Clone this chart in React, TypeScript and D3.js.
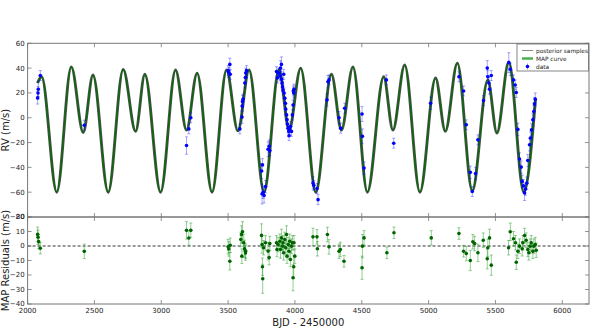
import * as d3 from "d3";

// ---- data ----
const X_TICKS = [2000, 2500, 3000, 3500, 4000, 4500, 5000, 5500, 6000];
const RV_TICKS = [-80, -60, -40, -20, 0, 20, 40, 60];
const RES_TICKS = [-40, -30, -20, -10, 0, 10, 20];

// MAP curve, sampled at its turning points
const CURVE_T = [2074, 2105, 2218, 2327, 2416, 2489, 2603, 2715, 2808, 2877, 2995, 3107, 3189, 3268, 3380, 3488, 3573, 3657, 3769, 3881, 3956, 4043, 4156, 4273, 4348, 4434, 4542, 4664, 4733, 4821, 4935, 5052, 5125, 5215, 5327, 5443, 5511, 5600, 5712, 5800];
const CURVE_V = [28, 33, -60, 41, -12, 34.5, -60, 39, -11, 35, -60, 38.5, -10, 36, -60, 38.5, -10.5, 38.5, -60, 39, -10, 40, -60, 35, -10, 41, -60, 33, -10, 42.5, -60, 32, -11, 44, -59, 30.5, -12.4, 45, -60, 15];

// [BJD-2450000, RV, err]
const RV_DATA: [number, number, number][] = [
  [2075, 16, 5], [2078, 20, 5], [2080, 23, 6], [2095, 34, 4],
  [2424, -6, 4],
  [3189, -22.4, 7], [3206, -9, 4], [3221, 0, 4],
  [3500, 38, 4], [3505, 36.4, 4], [3513, 43, 5], [3516, 35, 4],
  [3588, -9, 4], [3604, 0.5, 5], [3605, 9.5, 4], [3608, 13, 5], [3612, 15, 4], [3625, 28, 4], [3630, 32.5, 4], [3632, 36, 4], [3638, 38, 4],
  [3750, -43, 6], [3754, -61.5, 8], [3757, -38, 5], [3762, -60, 5], [3769, -62.6, 6], [3780, -55.5, 5], [3799, -25.4, 6], [3807, -23, 5], [3812, -26.5, 4],
  [3862, 37.2, 4], [3869, 32, 4], [3879, 36, 4], [3887, 33.7, 4], [3892, 40, 6], [3899, 43, 6], [3900, 31, 4], [3904, 28, 4], [3907, 25, 4], [3911, 22.4, 4],
  [3916, 35, 4], [3919, 20, 4], [3924, 15.8, 4], [3929, 11.7, 4], [3931, 7, 4], [3937, 2.3, 4], [3941, -1.7, 4], [3944, -5, 4], [3949, -8.4, 4], [3954, -11, 4],
  [3956, -14.5, 4], [3961, -9.8, 4], [3966, -7, 4], [3974, -11, 4], [3981, 2.3, 4], [3986, 10.3, 4], [3988, 21.6, 4], [3991, 20, 4], [3993, 23, 4],
  [4135, -52.6, 5], [4141, -54.5, 4], [4165, -57, 4], [4173, -66, 4],
  [4240, 14.4, 5], [4247, 29, 5], [4255, 30.5, 4],
  [4330, 0, 5], [4342, -8.4, 4], [4372, 7.7, 4],
  [4502, 3, 6], [4505, -15, 6], [4517, -40.6, 5],
  [4684, 30.5, 4], [4739, -20.5, 4],
  [5015, 11.7, 5],
  [5227, 33, 4], [5262, 21.6, 4], [5282, -5.7, 4], [5312, -44, 5], [5327, -59.4, 4], [5351, -45, 5], [5369, -17.8, 4], [5411, 13.8, 4],
  [5439, 40, 6], [5443, 33, 5], [5451, 28, 5], [5456, 23, 4], [5469, 34, 4],
  [5600, 44.4, 8], [5611, 39, 5], [5635, 30.5, 4], [5648, 26.4, 4], [5656, 20.3, 4], [5668, -9.4, 5], [5680, -33.3, 5], [5693, -39.8, 5],
  [5700, -51.3, 5], [5710, -54.8, 5], [5718, -60.7, 6], [5725, -57.5, 5], [5735, -52.7, 5], [5742, -34.5, 5], [5755, -21.8, 5], [5762, -16.4, 5],
  [5770, -9.8, 5], [5780, -1.7, 5], [5787, 5, 5], [5792, 11.2, 5], [5798, 15, 5],
];

// [BJD-2450000, residual, err]
const RES_DATA: [number, number, number][] = [
  [2075, 8, 5], [2078, 6, 5], [2083, 3, 5], [2095, -1.5, 4],
  [2424, -3.7, 5],
  [3189, 10.8, 6], [3206, 5.5, 5], [3221, 10.8, 5],
  [3500, -0.5, 5], [3505, -2, 5], [3513, -10.5, 6], [3516, 0.5, 5],
  [3595, 4.5, 5], [3600, 7.9, 6], [3603, -7, 5], [3608, 9.8, 7], [3617, 2.2, 6], [3623, -2, 6], [3630, -4.8, 5], [3632, -3.5, 5],
  [3750, 7.3, 8], [3754, 1, 6], [3757, -14.3, 6], [3759, -22.6, 10], [3765, -1.2, 5], [3780, 2.2, 5], [3799, -3.5, 6], [3807, -8, 5], [3812, 1.7, 5],
  [3862, 2.2, 5], [3866, -2.4, 5], [3874, 1, 5], [3887, 3.3, 5], [3892, -2.4, 6], [3899, 5.6, 6], [3907, -0.1, 5], [3911, 2.2, 5], [3916, -4.7, 5],
  [3924, 4.5, 5], [3931, -1.2, 5], [3937, 7.9, 6], [3941, -7, 5], [3949, 1, 5], [3956, -3.6, 5], [3961, 3.3, 5], [3966, -9.3, 5], [3974, -0.1, 5],
  [3981, 2.2, 5], [3986, -21.9, 9], [3991, -14.3, 8], [3993, 2.2, 5], [3999, -7, 5],
  [4135, 6.3, 6], [4165, 6.3, 5], [4168, -1.9, 5], [4243, 7.9, 5], [4255, -0.6, 5], [4330, -3.6, 5], [4340, -2.4, 5], [4367, -10.5, 4],
  [4502, -15, 8], [4505, -0.1, 8], [4517, 5.6, 5], [4688, -4.7, 4], [4741, 9.1, 4], [5020, 5.6, 5],
  [5227, 8.6, 4], [5262, -3.6, 4], [5282, -5.2, 5], [5312, -10, 7], [5331, 2.9, 5], [5344, 1.7, 5], [5369, -4.7, 6], [5409, 4, 5],
  [5439, -8.8, 7], [5443, -1.2, 6], [5456, 5.6, 6], [5469, -13.2, 7],
  [5598, -1.2, 5], [5611, 9.8, 6], [5635, 5, 5], [5650, 2.2, 5], [5656, -11.2, 5], [5668, -3.6, 5], [5680, -0.1, 5], [5700, -1.9, 5],
  [5705, 2.2, 5], [5718, 7.2, 5], [5730, 4, 5], [5742, -2.4, 5], [5750, -4.7, 5], [5760, -0.1, 5], [5768, 2.2, 5], [5780, -3.6, 5],
  [5787, -0.1, 5], [5798, 1, 5], [5805, -2.9, 5],
];

const LEGEND = ["posterior samples", "MAP curve", "data"];

const FONT = "'DejaVu Sans', sans-serif";
const FRAME = "#777";

export default function App() {
  const W = 598, H = 336;
  const left = 27.6, right = 589;
  const top = 43.3, mid = 217, bottom = 304;

  const x = d3.scaleLinear().domain([2000, 6200]).range([left, right]);
  const yRV = d3.scaleLinear().domain([-80, 60]).range([mid, top]);
  const yRes = d3.scaleLinear().domain([-40, 20]).range([bottom, mid]);

  const curve = d3
    .line<number>()
    .x((_, i) => x(CURVE_T[i]))
    .y((d) => yRV(d))
    .curve(d3.curveMonotoneX)(CURVE_V) as string;

  const tickLen = 4;

  // frame + inward ticks for one panel
  const panel = (y: d3.ScaleLinear<number, number>, yTicks: number[], y0: number, y1: number, key: string) => (
    <g key={key}>
      {X_TICKS.map((t) => (
        <g key={"x" + t} stroke={FRAME} strokeWidth={0.8}>
          <line x1={x(t)} x2={x(t)} y1={y0} y2={y0 + tickLen} />
          <line x1={x(t)} x2={x(t)} y1={y1} y2={y1 - tickLen} />
        </g>
      ))}
      {yTicks.map((v) => (
        <g key={"y" + v} stroke={FRAME} strokeWidth={0.8}>
          <line x1={left} x2={left + tickLen} y1={y(v)} y2={y(v)} />
          <line x1={right} x2={right - tickLen} y1={y(v)} y2={y(v)} />
        </g>
      ))}
      {yTicks.map((v) => (
        <text key={"l" + v} x={left - 3} y={y(v)} dy="0.35em" textAnchor="end" fontSize={7} fill="#222">
          {v < 0 ? "\u2212" + Math.abs(v) : v}
        </text>
      ))}
      <rect x={left} y={y0} width={right - left} height={y1 - y0} fill="none" stroke={FRAME} strokeWidth={1} />
    </g>
  );

  const lx = 517, ly = 44;

  return (
    <svg width={W} height={H} style={{ position: "absolute", left: 0, top: 0, fontFamily: FONT }}>
      <rect width={W} height={H} fill="#fff" />
      <defs>
        <clipPath id="clipTop">
          <rect x={left} y={top} width={right - left} height={mid - top} />
        </clipPath>
        <clipPath id="clipBot">
          <rect x={left} y={mid} width={right - left} height={bottom - mid} />
        </clipPath>
      </defs>

      {/* top panel: posterior band, MAP curve, data */}
      <g clipPath="url(#clipTop)">
        <path d={curve} fill="none" stroke="#111" strokeOpacity={0.75} strokeWidth={2.9} />
        <path d={curve} fill="none" stroke="#007000" strokeWidth={1.2} />
        {RV_DATA.map(([t, v, e], i) => (
          <g key={i} stroke="#0000ff" strokeOpacity={0.35} strokeWidth={1}>
            <line x1={x(t)} x2={x(t)} y1={yRV(v - e)} y2={yRV(v + e)} />
            <line x1={x(t) - 1.5} x2={x(t) + 1.5} y1={yRV(v - e)} y2={yRV(v - e)} />
            <line x1={x(t) - 1.5} x2={x(t) + 1.5} y1={yRV(v + e)} y2={yRV(v + e)} />
          </g>
        ))}
        {RV_DATA.map(([t, v], i) => (
          <circle key={i} cx={x(t)} cy={yRV(v)} r={1.8} fill="#0000ff" />
        ))}
      </g>

      {/* bottom panel: residuals */}
      <g clipPath="url(#clipBot)">
        <line x1={left} x2={right} y1={yRes(0)} y2={yRes(0)} stroke="#333" strokeWidth={1.2} strokeDasharray="3,2" />
        {RES_DATA.map(([t, r, e], i) => (
          <g key={i} stroke="#2ca02c" strokeOpacity={0.5} strokeWidth={1}>
            <line x1={x(t)} x2={x(t)} y1={yRes(r - e)} y2={yRes(r + e)} />
            <line x1={x(t) - 1.5} x2={x(t) + 1.5} y1={yRes(r - e)} y2={yRes(r - e)} />
            <line x1={x(t) - 1.5} x2={x(t) + 1.5} y1={yRes(r + e)} y2={yRes(r + e)} />
          </g>
        ))}
        {RES_DATA.map(([t, r], i) => (
          <circle key={i} cx={x(t)} cy={yRes(r)} r={1.8} fill="#006400" />
        ))}
      </g>

      {panel(yRV, RV_TICKS, top, mid, "top")}
      {panel(yRes, RES_TICKS, mid, bottom, "bot")}

      {X_TICKS.map((t) => (
        <text key={t} x={x(t)} y={312.5} textAnchor="middle" fontSize={7} fill="#222">
          {t}
        </text>
      ))}

      <text x={(left + right) / 2} y={326} textAnchor="middle" fontSize={10} fill="#222">
        BJD - 2450000
      </text>
      <text transform={`translate(8.5,${(top + mid) / 2}) rotate(-90)`} textAnchor="middle" fontSize={10} fill="#222">
        RV (m/s)
      </text>
      <text transform={`translate(8.5,${(mid + bottom) / 2}) rotate(-90)`} textAnchor="middle" fontSize={10} fill="#222">
        MAP Residuals (m/s)
      </text>

      {/* legend */}
      <g>
        <rect x={lx} y={ly} width={right - lx - 0.5} height={27} fill="#fff" stroke="#666" strokeWidth={0.8} />
        <line x1={lx + 5} x2={lx + 16} y1={ly + 6.5} y2={ly + 6.5} stroke="#888" strokeWidth={1} />
        <line x1={lx + 5} x2={lx + 16} y1={ly + 14.5} y2={ly + 14.5} stroke="#4caf50" strokeWidth={2.5} />
        <line x1={lx + 10.5} x2={lx + 10.5} y1={ly + 19.5} y2={ly + 25.5} stroke="#0000ff" strokeOpacity={0.4} />
        <circle cx={lx + 10.5} cy={ly + 22.5} r={1.8} fill="#0000ff" />
        {LEGEND.map((s, i) => (
          <text key={s} x={lx + 19} y={ly + 6.5 + i * 8} dy="0.35em" fontSize={5.8} fill="#222">
            {s}
          </text>
        ))}
      </g>
    </svg>
  );
}
